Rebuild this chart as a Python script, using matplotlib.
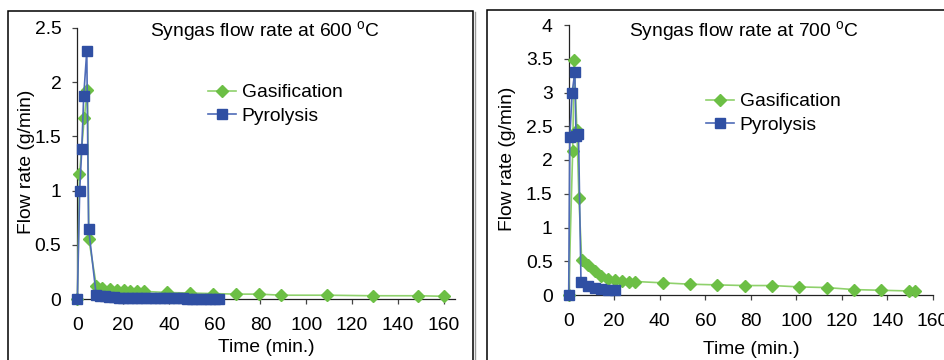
import numpy as np
import matplotlib
matplotlib.use('Agg')
import matplotlib.pyplot as plt
from matplotlib.patches import Rectangle
from matplotlib.lines import Line2D

# data (time in min., flow rate in g/min)
t_gas_600=[0,0.9,3.0,4.4,5.0,8.3,10.9,14.1,17.3,20.2,23.1,26.1,29.3,39.2,49.3,59.3,69.4,79.5,89,109,129,149,160]
f_gas_600=[0,1.15,1.67,1.93,0.55,0.12,0.10,0.09,0.085,0.08,0.075,0.075,0.07,0.06,0.055,0.05,0.045,0.045,0.035,0.035,0.03,0.03,0.025]
t_pyr_600=[0,1.0,1.9,2.75,4.1,4.9,8.2,10,12,14,16,18,20,22,24,26,28,30,32,34,36,38,40,42,44,46,48,50,52,54,56,58,60,62]
f_pyr_600=[0,1.0,1.38,1.87,2.29,0.65,0.04,0.03,0.025,0.02,0.015,0.01,0.01,0.01,0.01,0.01,0.008,0.008,0.008,0.006,0.005,0.005,0.005,0.005,0.005,0.005,0.004,0.004,0.003,0.002,0.002,0.002,0.001,0.0]

t_gas_700=[0,1.75,2.4,3.6,4.5,5.7,8.3,11.5,14.4,17.3,20.4,23.6,26.5,29.3,41.4,53.2,65,77.6,89.4,101.2,113.3,125.4,137.2,149.4,152.2]
f_gas_700=[0,2.14,3.48,2.44,1.43,0.52,0.45,0.35,0.28,0.24,0.22,0.21,0.2,0.2,0.18,0.16,0.15,0.14,0.14,0.12,0.11,0.08,0.07,0.06,0.055]
t_pyr_700=[0,0.5,1.5,2.7,3.2,4.3,5.4,8.6,11.5,14.4,17.3,20.2]
f_pyr_700=[0,2.34,3.0,3.3,2.36,2.39,0.19,0.13,0.11,0.09,0.08,0.07]

xticks=[0,20,40,60,80,100,120,140,160]
yticks_600=[0,0.5,1,1.5,2,2.5]
yticks_700=[0,0.5,1,1.5,2,2.5,3,3.5,4]

green='#6cbf45'
green_line='#8fd16c'
blue='#2f4fa3'
blue_line='#4f6cb8'

matplotlib.rcParams.update({'font.size': 13.9, 'font.family':['Liberation Sans','DejaVu Sans'],
                            'mathtext.fontset':'custom','mathtext.rm':'Liberation Sans',
                            'mathtext.it':'Liberation Sans:italic'})

fig=plt.figure(figsize=(9.44,3.6),dpi=100)
W,H=944.,360.

def px_axes(x0,x1,ytop,ybot):
    return fig.add_axes([x0/W,1-ybot/H,(x1-x0)/W,(ybot-ytop)/H])

def style(ax,xmax,ymax,yticks):
    ax.set_xlim(0,xmax)
    ax.set_ylim(0,ymax)
    ax.set_xticks(xticks)
    ax.set_yticks(yticks)
    ax.set_yticklabels([('%g' % v) for v in yticks])
    for s in ['top','right']:
        ax.spines[s].set_visible(False)
    for s in ['left','bottom']:
        ax.spines[s].set_color('#222222')
        ax.spines[s].set_linewidth(0.9)
    ax.tick_params(axis='both',direction='out',length=3.6,width=0.9,color='#444444')
    ax.tick_params(axis='y',pad=8)
    ax.tick_params(axis='x',pad=9)

def draw(ax,tg,fg,tp,fp):
    ax.plot(tg,fg,color=green_line,lw=1.2,marker='D',ms=6.4,mfc=green,mec=green,clip_on=False,zorder=3)
    ax.plot(tp,fp,color=blue_line,lw=1.2,marker='s',ms=6.8,mfc=blue,mec=blue,clip_on=False,zorder=4)

# left panel, 600 C
ax1=px_axes(77.4,455,28,299)
style(ax1,165,2.5,yticks_600)
draw(ax1,t_gas_600,f_gas_600,t_pyr_600,f_pyr_600)

# right panel, 700 C
ax2=px_axes(568.7,933,25,295)
style(ax2,160,4,yticks_700)
draw(ax2,t_gas_700,f_gas_700,t_pyr_700,f_pyr_700)

# labels and titles in pixel positions
fig.text(26.7/W,1-162/H,'Flow rate (g/min)',rotation=90,ha='center',va='center')
fig.text(508/W,1-159/H,'Flow rate (g/min)',rotation=90,ha='center',va='center')
fig.text(266/W,1-348/H,'Time (min.)',ha='center',va='center')
fig.text(751/W,1-350/H,'Time (min.)',ha='center',va='center')
fig.text(265/W,1-31/H,r'Syngas flow rate at 600 $^{\rm o}$C',ha='center',va='center')
fig.text(744/W,1-31/H,r'Syngas flow rate at 700 $^{\rm o}$C',ha='center',va='center')

handles=[Line2D([],[],color=green_line,lw=1.2,marker='D',ms=6.4,mfc=green,mec=green),
         Line2D([],[],color=blue_line,lw=1.2,marker='s',ms=6.8,mfc=blue,mec=blue)]
for x,y in [(208,92),(706,101)]:
    fig.legend(handles,['Gasification','Pyrolysis'],loc='center left',
               bbox_to_anchor=(x/W,1-(y+12.5)/H),frameon=False,borderpad=0,
               borderaxespad=0,handlelength=1.45,handletextpad=0.3,labelspacing=0.32)

# chart area borders
fig.patches.append(Rectangle((8/W,-0.2),(473-8)/W,0.2+1-11/H,transform=fig.transFigure,
                             fill=False,ec='black',lw=1.1,zorder=0))
fig.lines.append(Line2D([475/W,475/W],[-0.1,1-12/H],transform=fig.transFigure,color='#999999',lw=1))
fig.patches.append(Rectangle((487/W,-0.2),0.6,0.2+1-10/H,transform=fig.transFigure,
                             fill=False,ec='black',lw=1.1,zorder=0))

plt.savefig('out.png',dpi=100)
